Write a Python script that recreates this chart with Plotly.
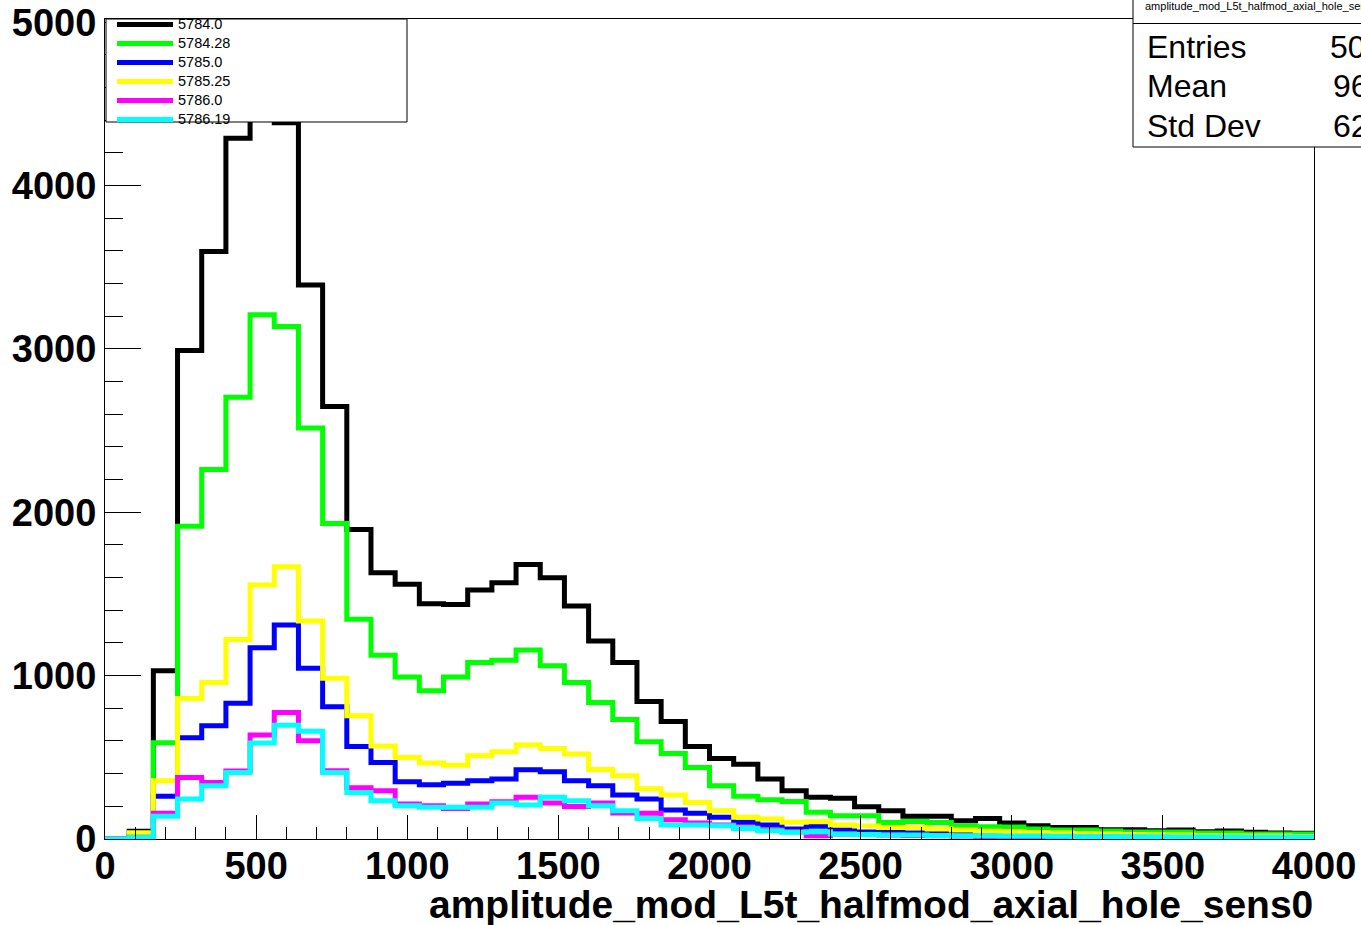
import plotly.graph_objects as go

bin_width = 80
n_bins = 50
bin_edges = [i * bin_width for i in range(n_bins + 1)]

series_names = ["5784.0", "5784.28", "5785.0", "5785.25", "5786.0", "5786.19"]
series_colors = ["#000000", "#00ff00", "#0000ff", "#ffff00", "#ff00ff", "#00ffff"]

counts_5784_0 = [0, 48, 1030, 2990, 3596, 4290, 4780, 4385, 3392, 2648,
                 1895, 1630, 1559, 1440, 1436, 1524, 1569, 1681, 1600, 1426,
                 1212, 1080, 842, 719, 566, 493, 458, 367, 295, 255,
                 250, 198, 173, 139, 139, 112, 126, 98, 81, 71,
                 71, 57, 57, 51, 55, 45, 49, 41, 37, 35]
counts_5784_28 = [0, 20, 590, 1915, 2262, 2704, 3209, 3138, 2516, 1932,
                  1345, 1125, 992, 907, 992, 1080, 1094, 1157, 1060, 958,
                  835, 731, 595, 523, 438, 326, 261, 240, 230, 163,
                  142, 142, 101, 107, 101, 81, 75, 73, 61, 55,
                  55, 49, 43, 43, 43, 37, 37, 31, 31, 31]
counts_5785_0 = [0, 12, 262, 620, 693, 831, 1171, 1310, 1045, 809,
                 566, 468, 350, 332, 342, 356, 367, 424, 412, 356,
                 326, 269, 245, 177, 157, 133, 102, 86, 61, 78,
                 55, 43, 40, 37, 35, 30, 28, 25, 22, 20,
                 20, 18, 16, 15, 14, 12, 12, 10, 10, 9]
counts_5785_25 = [0, 38, 356, 860, 958, 1222, 1555, 1667, 1334, 984,
                  754, 570, 499, 465, 452, 509, 534, 575, 554, 520,
                  426, 387, 308, 269, 224, 173, 133, 122, 102, 106,
                  86, 80, 71, 71, 61, 55, 47, 45, 40, 36,
                  33, 30, 28, 26, 24, 22, 20, 19, 18, 16]
counts_5786_0 = [0, 10, 157, 377, 346, 417, 636, 775, 602, 418,
                 314, 295, 214, 204, 187, 214, 228, 255, 220, 199,
                 220, 159, 157, 118, 98, 86, 67, 55, 45, 20,
                 30, 28, 25, 22, 20, 18, 16, 15, 14, 13,
                 12, 11, 10, 9, 9, 8, 8, 7, 7, 6]
counts_5786_19 = [0, 11, 139, 245, 326, 407, 587, 697, 660, 407,
                  284, 234, 204, 194, 194, 194, 220, 208, 255, 234,
                  204, 173, 126, 86, 86, 81, 65, 51, 41, 45,
                  31, 28, 25, 24, 22, 20, 20, 19, 18, 17,
                  16, 15, 14, 14, 13, 12, 12, 11, 11, 10]

all_counts = [counts_5784_0, counts_5784_28, counts_5785_0,
              counts_5785_25, counts_5786_0, counts_5786_19]

x_title = "amplitude_mod_L5t_halfmod_axial_hole_sens0"
stat_labels = ["Entries", "Mean", "Std Dev"]
stat_values = ["50974", "962.4", "627.1"]

FONT = "Liberation Sans, Arial, sans-serif"

fig = go.Figure()
for name, color, counts in zip(series_names, series_colors, all_counts):
    fig.add_trace(go.Scatter(
        x=bin_edges,
        y=counts + [counts[-1]],
        mode="lines",
        line=dict(color=color, width=5, shape="hv"),
        name='<span style="font-size:14.5px">' + name + '</span>',
    ))

W, H = 1361, 925
ML, MR, MT, MB = 105, 47, 19, 86
PW = W - ML - MR
PH = H - MT - MB


def px_x(p):
    return (p - ML) / PW


def px_y(p):
    return (H - MB - p) / PH


shapes = [
    # legend box
    dict(type="rect", xref="paper", yref="paper",
         x0=px_x(106), x1=px_x(407), y0=px_y(122), y1=px_y(19),
         fillcolor="white", line=dict(color="black", width=1), layer="above"),
    # stats box
    dict(type="rect", xref="paper", yref="paper",
         x0=px_x(1133), x1=px_x(1420), y0=px_y(147), y1=px_y(-10),
         fillcolor="white", line=dict(color="black", width=1), layer="above"),
    dict(type="line", xref="paper", yref="paper",
         x0=px_x(1133), x1=px_x(1420), y0=px_y(23.5), y1=px_y(23.5),
         line=dict(color="black", width=1), layer="above"),
]

annotations = [
    dict(text=x_title, xref="paper", yref="paper", x=px_x(1315), y=px_y(904),
         xanchor="right", yanchor="middle", showarrow=False,
         font=dict(family=FONT, size=39, color="black", weight="bold")),
    dict(text=x_title, xref="paper", yref="paper", x=px_x(1143), y=px_y(5.5),
         xanchor="left", yanchor="middle", showarrow=False,
         font=dict(family=FONT, size=11, color="black")),
]
stat_y = [47, 86, 126]
stat_vx = [1330, 1333, 1333]
for lab, val, yy, vx in zip(stat_labels, stat_values, stat_y, stat_vx):
    annotations.append(dict(text=lab, xref="paper", yref="paper", x=px_x(1145), y=px_y(yy),
                            xanchor="left", yanchor="middle", showarrow=False,
                            font=dict(family=FONT, size=32, color="black")))
    annotations.append(dict(text=val, xref="paper", yref="paper", x=px_x(vx - 2), y=px_y(yy),
                            xanchor="left", yanchor="middle", showarrow=False,
                            font=dict(family=FONT, size=32, color="black")))

fig.update_layout(
    width=W, height=H,
    margin=dict(l=ML, r=MR, t=MT, b=MB, pad=0, autoexpand=False),
    paper_bgcolor="white", plot_bgcolor="white",
    showlegend=True,
    legend=dict(x=px_x(112), y=px_y(10), xanchor="left", yanchor="top",
                bgcolor="rgba(0,0,0,0)", borderwidth=0,
                font=dict(family=FONT, size=11, color="black"),
                itemwidth=56, tracegroupgap=0),
    shapes=shapes,
    annotations=annotations,
    xaxis=dict(range=[0, 4000], showgrid=False, zeroline=False,
               showline=True, linecolor="black", linewidth=1, mirror=True,
               ticks="inside", ticklen=24, tickwidth=1, tickcolor="black",
               tick0=0, dtick=500, ticklabelstandoff=-7,
               minor=dict(ticks="inside", ticklen=12, dtick=100, tickcolor="black", tickwidth=1, showgrid=False),
               tickfont=dict(family=FONT, size=38, color="black", weight="bold")),
    yaxis=dict(range=[0, 5020], showgrid=False, zeroline=False,
               showline=True, linecolor="black", linewidth=1, mirror=True,
               ticks="inside", ticklen=36, tickwidth=1, tickcolor="black",
               tick0=0, dtick=1000,
               minor=dict(ticks="inside", ticklen=18, dtick=200, tickcolor="black", tickwidth=1, showgrid=False),
               tickfont=dict(family=FONT, size=38, color="black", weight="bold")),
)

fig.write_html("out.html", config={"displayModeBar": False},
               post_script="document.body.style.margin='0';")
